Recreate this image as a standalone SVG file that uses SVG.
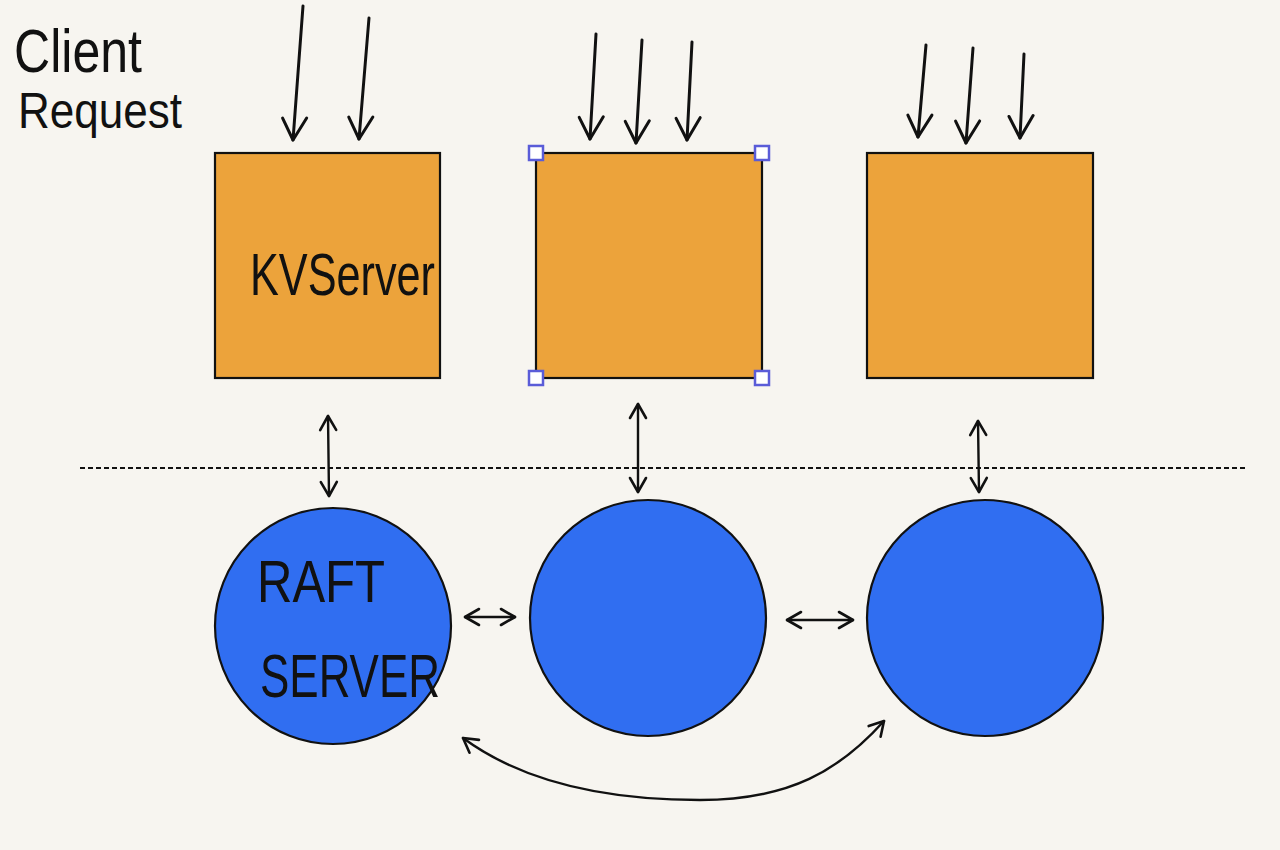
<svg xmlns="http://www.w3.org/2000/svg" width="1280" height="850" viewBox="0 0 1280 850">
<defs>
<marker id="ah" viewBox="0 0 20 20" refX="18" refY="10" markerWidth="20" markerHeight="20" markerUnits="userSpaceOnUse" orient="auto-start-reverse">
<path d="M4,2 L18,10 L4,18" fill="none" stroke="#111" stroke-width="2.6" stroke-linecap="round" stroke-linejoin="round"/>
</marker>
<marker id="ahb" viewBox="0 0 30 30" refX="27" refY="15" markerWidth="30" markerHeight="30" markerUnits="userSpaceOnUse" orient="auto-start-reverse">
<path d="M4,3 L27,15 L6,27" fill="none" stroke="#111" stroke-width="3" stroke-linecap="round" stroke-linejoin="round"/>
</marker>
</defs>
<style>
.box{fill:#eca33b;stroke:#111;stroke-width:2.2}
.raft{fill:#306ef1;stroke:#111;stroke-width:2.2}
.hand{font-family:"Liberation Sans",Arial,sans-serif;fill:#111}
.con{fill:none;stroke:#111;stroke-width:2.4;stroke-linecap:round}
.req{fill:none;stroke:#111;stroke-width:3;stroke-linecap:round}
.handle{fill:#fff;stroke:#5a5cd8;stroke-width:2.5}
</style>
<rect width="1280" height="850" fill="#f7f5f0"/>
<g id="title">
<text class="hand" x="14" y="72" font-size="62" textLength="128" lengthAdjust="spacingAndGlyphs">Client</text>
<text class="hand" x="18" y="128" font-size="50" textLength="164" lengthAdjust="spacingAndGlyphs">Request</text>
</g>
<g id="kv1">
<rect class="box" x="215" y="153" width="225" height="225"/>
<text class="hand" x="250" y="295" font-size="60" font-weight="300" textLength="185" lengthAdjust="spacingAndGlyphs">KVServer</text>
</g>
<g id="kv2">
<rect class="box" x="536" y="153" width="226" height="225"/>
<rect class="handle" x="529" y="146" width="14" height="14"/>
<rect class="handle" x="755" y="146" width="14" height="14"/>
<rect class="handle" x="529" y="371" width="14" height="14"/>
<rect class="handle" x="755" y="371" width="14" height="14"/>
</g>
<g id="kv3">
<rect class="box" x="867" y="153" width="226" height="225"/>
</g>
<g id="raft1">
<circle class="raft" cx="333" cy="626" r="118"/>
<text class="hand" x="257" y="602" font-size="60" textLength="128" lengthAdjust="spacingAndGlyphs">RAFT</text>
<text class="hand" x="260" y="697" font-size="62" textLength="180" lengthAdjust="spacingAndGlyphs">SERVER</text>
</g>
<g id="raft2">
<circle class="raft" cx="648" cy="618" r="118"/>
</g>
<g id="raft3">
<circle class="raft" cx="985" cy="618" r="118"/>
</g>
<g id="connectors">
<line x1="80" y1="468" x2="1245" y2="468" stroke="#111" stroke-width="1.8" stroke-dasharray="5,3"/>
<path class="req" d="M303,6 L293,140" marker-end="url(#ahb)"/>
<path class="req" d="M369,18 L359,139" marker-end="url(#ahb)"/>
<path class="req" d="M596,34 L590,139" marker-end="url(#ahb)"/>
<path class="req" d="M642,40 L636,143" marker-end="url(#ahb)"/>
<path class="req" d="M692,42 L687,140" marker-end="url(#ahb)"/>
<path class="req" d="M926,45 L918,137" marker-end="url(#ahb)"/>
<path class="req" d="M973,48 L966,143" marker-end="url(#ahb)"/>
<path class="req" d="M1024,54 L1020,138" marker-end="url(#ahb)"/>
<path class="con" d="M328,416 L329,496" marker-start="url(#ah)" marker-end="url(#ah)"/>
<path class="con" d="M638,404 L638,492" marker-start="url(#ah)" marker-end="url(#ah)"/>
<path class="con" d="M978,421 L979,492" marker-start="url(#ah)" marker-end="url(#ah)"/>
<path class="con" d="M465,617 L515,617" marker-start="url(#ah)" marker-end="url(#ah)"/>
<path class="con" d="M787,620 L853,620" marker-start="url(#ah)" marker-end="url(#ah)"/>
<path class="con" d="M463,738 C520,780 600,800 700,800 C790,800 840,770 884,721" stroke-width="3" marker-start="url(#ah)" marker-end="url(#ah)"/>
</g>
</svg>
